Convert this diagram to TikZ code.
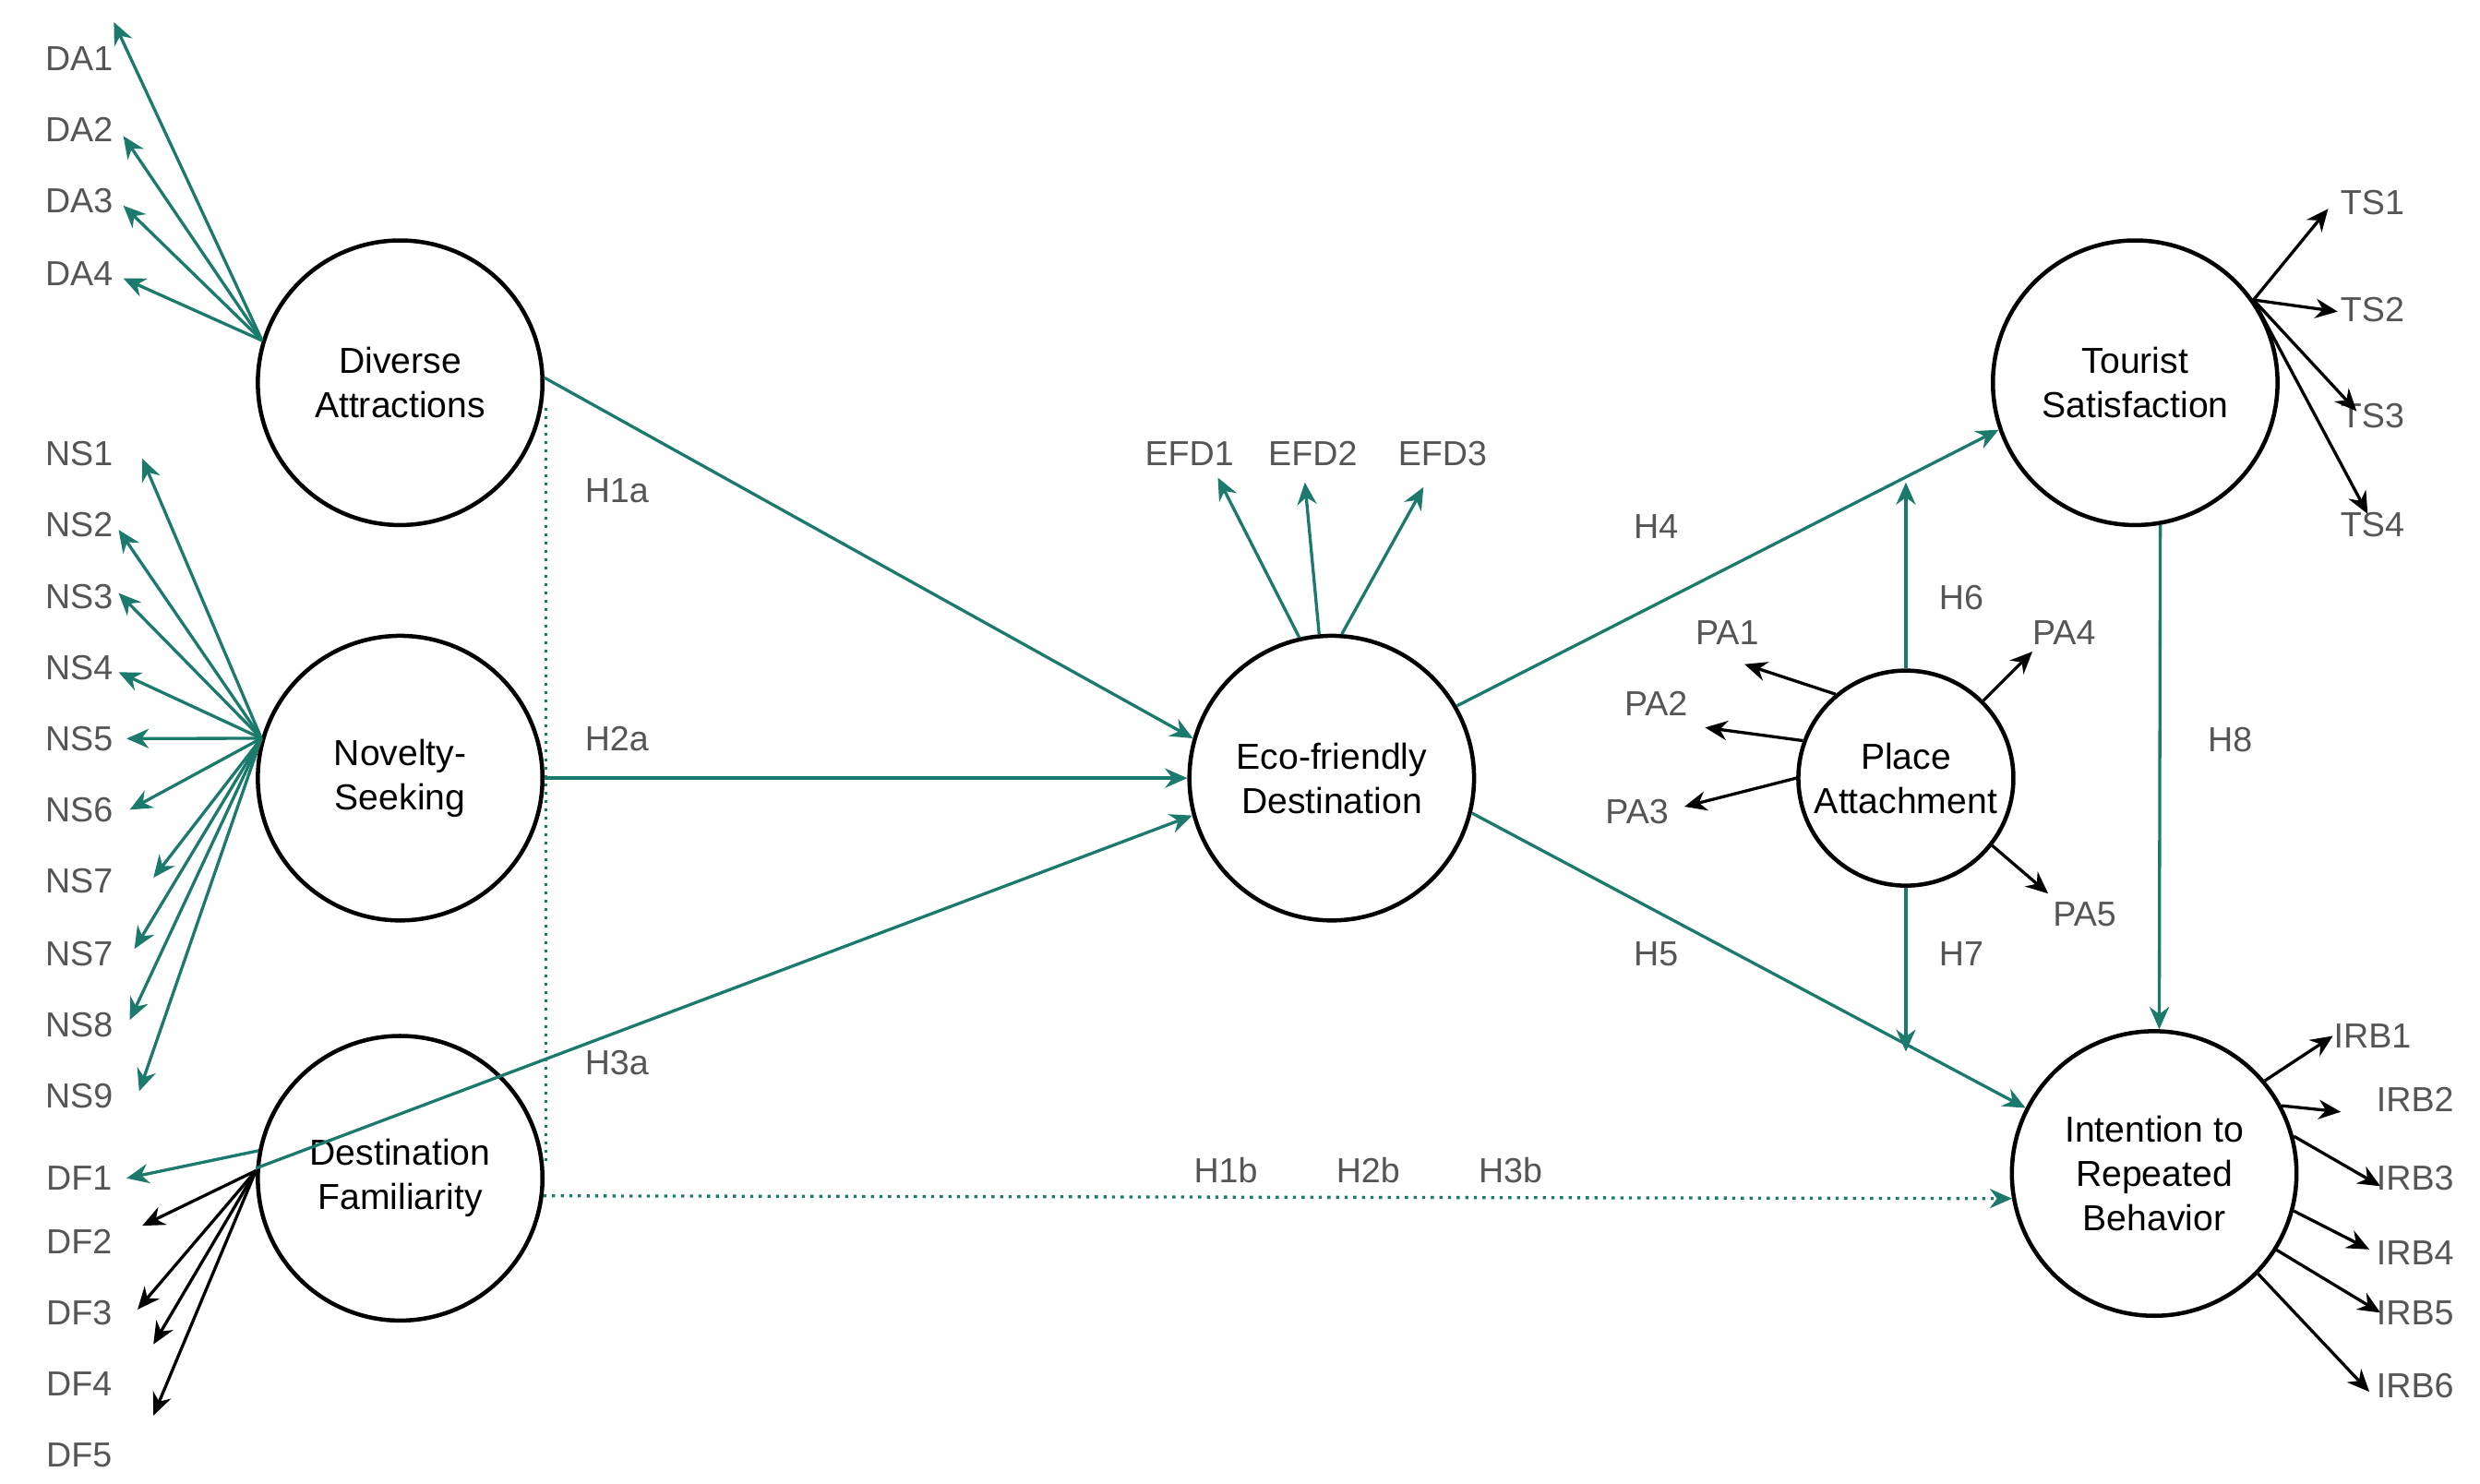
\documentclass[tikz,border=0pt]{standalone}
\usepackage{fontspec}
\setmainfont{Liberation Sans}
\usetikzlibrary{arrows.meta}
\definecolor{gr}{HTML}{1B7A6B}
\definecolor{lb}{HTML}{555555}
\begin{document}
\begin{tikzpicture}[x=0.02cm,y=-0.02cm,
 lv/.style={circle,draw,line width=1.5pt,minimum size=3.6cm,inner sep=0pt,align=center,font=\fontsize{13}{16}\selectfont},
 lab/.style={text=lb,font=\fontsize{12.5}{15}\selectfont,inner sep=1pt},
 ga/.style={draw=gr,line width=1.1pt,-{Stealth[length=8pt,width=7pt]}},
 ba/.style={draw=black,line width=1.1pt,-{Stealth[length=8pt,width=7pt]}}]
\useasboundingbox (0,0) rectangle (1568,938);
\node[lv] (DA) at (253,242) {Diverse\\Attractions};
\node[lv] (NS) at (253,492) {Novelty-\\Seeking};
\node[lv] (DF) at (253,745) {Destination\\Familiarity};
\node[lv] (EFD) at (842,492) {Eco-friendly\\Destination};
\node[lv] (TS) at (1350,242) {Tourist\\Satisfaction};
\node[lv] (IRB) at (1362,742) {Intention to\\Repeated\\Behavior};
\node[lv,minimum size=2.72cm] (PA) at (1205,492) {Place\\Attachment};
% DA items
\foreach \n/\y/\tx/\ty in {1/37/72/14,2/82/78/86,3/127/78/130,4/173/78/176}{
 \node[lab] (DA\n) at (50,\y) {DA\n};
 \coordinate (dat\n) at (\tx,\ty);
 \draw[ga] (DA.163) -- (dat\n);}
% NS items
\foreach \i/\t/\y/\tx/\ty in {1/NS1/287/90/290,2/NS2/332/75/335,3/NS3/377/75/375,4/NS4/422/75/425,5/NS5/467/80/467,6/NS6/512/82/512,7/NS7/557/97/555,8/NS7/603/85/600,9/NS8/648/82/645,10/NS9/693/88/690}{
 \node[lab] (NSL\i) at (50,\y) {\t};
 \coordinate (nst\i) at (\tx,\ty);
 \draw[ga] (NS.164) -- (nst\i);}
% DF items
\foreach \n/\y in {1/745,2/785,3/830,4/875,5/920}{\node[lab] (DF\n) at (50,\y) {DF\n};}
\coordinate (dft1) at (80,745);
\draw[ga] (DF.169) -- (dft1);
\foreach \n/\tx/\ty in {2/90/775,3/87/828,4/97/850,5/97/895}{
 \coordinate (dft\n) at (\tx,\ty);
 \draw[ba] (DF.177) -- (dft\n);}
% EFD items
\node[lab] (EFD1) at (752,287) {EFD1};
\node[lab] (EFD2) at (830,287) {EFD2};
\node[lab] (EFD3) at (912,287) {EFD3};
\coordinate (e1) at (770,302); \coordinate (e2) at (825,305); \coordinate (e3) at (900,308);
\draw[ga] (EFD.103) -- (e1);
\draw[ga] (EFD.95) -- (e2);
\draw[ga] (EFD.86) -- (e3);
% TS items
\foreach \n/\y/\tx/\ty in {1/128/1472/132,2/196/1478/197,3/263/1490/260,4/332/1497/325}{
 \node[lab] (TS\n) at (1500,\y) {TS\n};
 \coordinate (tst\n) at (\tx,\ty);
 \draw[ba] (TS.35) -- (tst\n);}
% IRB items
\foreach \n/\x/\y/\a/\tx/\ty in {1/1500/655/40/1475/655,2/1527/695/28/1480/703,3/1527/745/15/1505/750,4/1527/792/-15/1498/790,5/1527/830/-32/1505/830,6/1527/876/-44/1498/880}{
 \node[lab] (IRB\n) at (\x,\y) {IRB\n};
 \coordinate (it\n) at (\tx,\ty);
 \draw[ba] (IRB.\a) -- (it\n);}
% PA items
\foreach \n/\x/\y/\a/\tx/\ty in {1/1092/400/130/1103/420,2/1047/445/160/1078/460,3/1035/513/180/1065/510,4/1305/400/45/1285/412,5/1318/578/-38/1295/565}{
 \node[lab] (PA\n) at (\x,\y) {PA\n};
 \coordinate (pt\n) at (\tx,\ty);
 \draw[ba] (PA.\a) -- (pt\n);}
% structural paths
\draw[ga] (DA.2) -- (EFD.164);
\draw[ga] (NS.east) -- (EFD.west);
\draw[ga] (DF.176) -- (EFD.195);
\draw[ga] (EFD.30) -- (TS.199);
\draw[ga] (EFD.-14) -- (IRB.153);
\coordinate (h6) at (1205,305);
\coordinate (h7) at (1205,665);
\draw[ga] (PA.north) -- (h6);
\draw[ga] (PA.south) -- (h7);
\draw[ga] (TS.-80) -- (IRB.88);
\draw[ga,dotted] (DF.-7) -- (IRB.190);
\coordinate (v1) at (345,258); \coordinate (v2) at (345,735);
\draw[gr,dotted,line width=1pt] (v1) -- (v2);
% hypothesis labels
\node[lab] (H1a) at (390,310) {H1a};
\node[lab] (H2a) at (390,467) {H2a};
\node[lab] (H3a) at (390,672) {H3a};
\node[lab] (H4) at (1047,333) {H4};
\node[lab] (H5) at (1047,603) {H5};
\node[lab] (H6) at (1240,378) {H6};
\node[lab] (H7) at (1240,603) {H7};
\node[lab] (H8) at (1410,468) {H8};
\node[lab] (H1b) at (775,740) {H1b};
\node[lab] (H2b) at (865,740) {H2b};
\node[lab] (H3b) at (955,740) {H3b};
\end{tikzpicture}
\end{document}
